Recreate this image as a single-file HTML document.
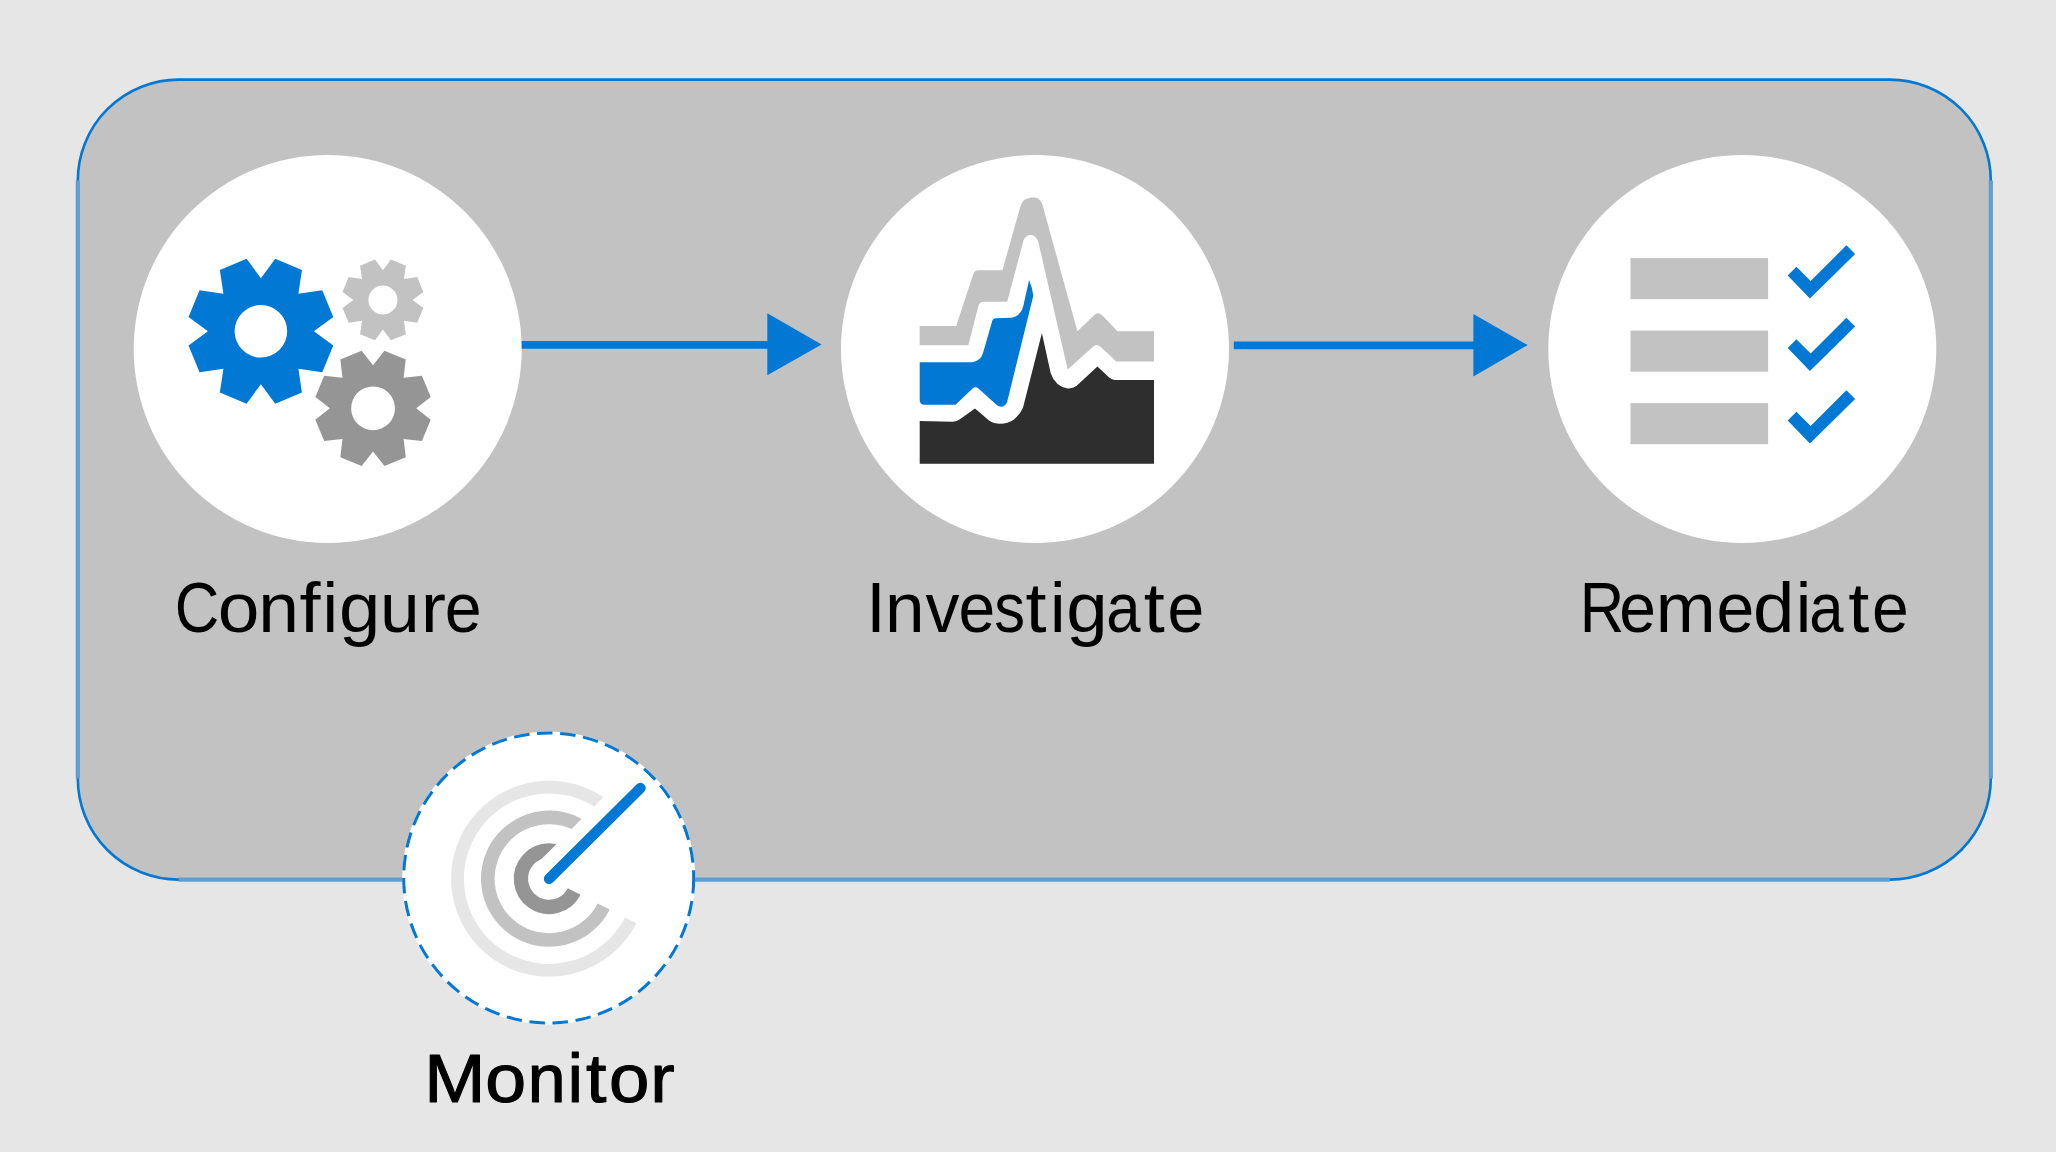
<!DOCTYPE html>
<html><head><meta charset="utf-8"><style>
html,body{margin:0;padding:0;background:#e6e6e6;}
svg{display:block;}
</style></head><body>
<svg width="2056" height="1152" viewBox="0 0 2056 1152">
<rect x="0" y="0" width="2056" height="1152" fill="#e6e6e6"/>
<rect x="77.8" y="79.6" width="1913.0" height="800.0" rx="101" ry="101" fill="#c2c2c2" stroke="#0078d4" stroke-width="2.6"/>
<path d="M77.8,180.6 L77.8,778.6 M1990.8,180.6 L1990.8,778.6 M178.8,879.6 L1889.8,879.6" stroke="#5e9ed2" stroke-width="4.2" fill="none"/>
<line x1="515" y1="344.8" x2="772" y2="344.8" stroke="#0078d4" stroke-width="7.8"/>
<polygon points="767.3,313.3 821.6,344.5 767.3,375.3" fill="#0078d4"/>
<line x1="1233.8" y1="345.3" x2="1478" y2="345.3" stroke="#0078d4" stroke-width="7.8"/>
<polygon points="1473.4,314 1527.7,345.1 1473.4,376.5" fill="#0078d4"/>
<circle cx="327.7" cy="349" r="194" fill="#ffffff"/>
<circle cx="1035.0" cy="349" r="194" fill="#ffffff"/>
<circle cx="1742.3" cy="349" r="194" fill="#ffffff"/>
<path d="M260.90,278.25 L275.23,258.86 L301.95,269.92 L298.38,293.77 L322.23,290.20 L333.29,316.92 L313.90,331.25 L333.29,345.58 L322.23,372.30 L298.38,368.73 L301.95,392.58 L275.23,403.64 L260.90,384.25 L246.57,403.64 L219.85,392.58 L223.42,368.73 L199.57,372.30 L188.51,345.58 L207.90,331.25 L188.51,316.92 L199.57,290.20 L223.42,293.77 L219.85,269.92 L246.57,258.86 Z M234.60,331.25 a26.3,26.3 0 1,0 52.60,0 a26.3,26.3 0 1,0 -52.60,0 Z" fill="#0078d4" fill-rule="evenodd"/>
<path d="M382.96,270.30 L390.96,259.48 L405.88,265.66 L403.89,278.97 L417.20,276.98 L423.38,291.90 L412.56,299.90 L423.38,307.90 L417.20,322.82 L403.89,320.83 L405.88,334.14 L390.96,340.32 L382.96,329.50 L374.96,340.32 L360.04,334.14 L362.03,320.83 L348.72,322.82 L342.54,307.90 L353.36,299.90 L342.54,291.90 L348.72,276.98 L362.03,278.97 L360.04,265.66 L374.96,259.48 Z M368.46,299.90 a14.5,14.5 0 1,0 29.00,0 a14.5,14.5 0 1,0 -29.00,0 Z" fill="#c2c2c2" fill-rule="evenodd"/>
<path d="M373.05,365.15 L384.47,350.67 L405.76,359.49 L403.60,377.80 L421.91,375.64 L430.73,396.93 L416.25,408.35 L430.73,419.77 L421.91,441.06 L403.60,438.90 L405.76,457.21 L384.47,466.03 L373.05,451.55 L361.63,466.03 L340.34,457.21 L342.50,438.90 L324.19,441.06 L315.37,419.77 L329.85,408.35 L315.37,396.93 L324.19,375.64 L342.50,377.80 L340.34,359.49 L361.63,350.67 Z M351.15,408.35 a21.9,21.9 0 1,0 43.80,0 a21.9,21.9 0 1,0 -43.80,0 Z" fill="#959595" fill-rule="evenodd"/>
<path d="M919.7,326.1 L956.2,326.1 L973.5,273.5 Q974.8,270.2 978.5,270.2 L1002.4,270.2 L1020.6,205.8 C1023.5,197.5 1031,197.5 1034.5,197.6 C1038.5,198 1041,200.5 1042.5,205 L1077.4,331.3 L1095.2,314.3 Q1098.5,311.8 1102.5,315.4 L1117.5,331.3 L1154,331.3 L1154,361.6 L1116.3,361.6 L1100.5,346.8 Q1096.8,343.3 1093,346.8 L1067.7,369.5 L1038.2,241.5 C1036.5,236.5 1033,235 1030.5,235 C1027,235 1024.5,237.5 1023.5,240.5 L1007.2,301.8 L983.5,301.8 Q979.5,302 978.5,305.5 L968.3,345.2 L919.7,345.2 Z" fill="#c2c2c2"/>
<path d="M919.7,362.2 L972,362.2 Q980.5,361.5 983,353.1 L992.2,321 Q993,318.2 996,318.2 L1011.5,317.8 Q1020.5,316 1023.2,306.5 L1029.1,280 Q1032.5,288 1033.3,295.7 L1007.2,401.7 Q1005,406.8 1001,406.8 Q998,406.8 995,403.5 L978.5,388.5 Q975.6,386.2 972.6,388.5 L955.5,404.7 L924.6,404.7 Q919.7,404.7 919.7,399.9 Z" fill="#0078d4"/>
<path d="M919.7,421.1 L952.5,421.7 Q957.5,421.5 961,418.5 L975,408.4 L989,420.5 Q994,423.8 1000,423.8 Q1008,423.5 1013.3,419.9 Q1020.5,414 1023,407.8 L1041.9,333.1 L1050.7,373.2 Q1055,386 1067.7,388.6 Q1074,388.6 1078.6,384.1 L1097.4,366.5 L1107.8,376.2 Q1111,379.9 1116,379.9 L1154,379.9 L1154,463.7 L919.7,463.7 Z" fill="#2e2e2e"/>
<rect x="1630.5" y="258.1" width="137.6" height="41.1" fill="#c2c2c2"/>
<polygon points="1787.7,275.5 1796.4,266.8 1810.65,281.1 1846.4,245.3 1855.1,254.0 1809.9,298.4" fill="#0078d4"/>
<rect x="1630.5" y="330.6" width="137.6" height="41.1" fill="#c2c2c2"/>
<polygon points="1787.7,348.0 1796.4,339.3 1810.65,353.6 1846.4,317.8 1855.1,326.5 1809.9,370.9" fill="#0078d4"/>
<rect x="1630.5" y="403.1" width="137.6" height="41.1" fill="#c2c2c2"/>
<polygon points="1787.7,420.5 1796.4,411.8 1810.65,426.1 1846.4,390.3 1855.1,399.0 1809.9,443.4" fill="#0078d4"/>
<g font-family="Liberation Sans, sans-serif" fill="#000000" text-anchor="start">
<text x="0" y="632.4" font-size="70" transform="translate(197.45,0) scale(0.8800,1) translate(-25.72,0)">C</text>
<text x="0" y="632.4" font-size="70" transform="translate(238.70,0) scale(1.0710,1) translate(-19.47,0)">o</text>
<text x="0" y="632.4" font-size="70" transform="translate(278.55,0) scale(1.0459,1) translate(-19.52,0)">n</text>
<text x="0" y="632.4" font-size="70" transform="translate(310.68,0) scale(1.0800,1) translate(-10.27,0)">f</text>
<text x="0" y="632.4" font-size="70" transform="translate(330.30,0) scale(1.0000,1) translate(-7.76,0)">i</text>
<text x="0" y="632.4" font-size="70" transform="translate(358.90,0) scale(1.0610,1) translate(-18.68,0)">g</text>
<text x="0" y="632.4" font-size="70" transform="translate(399.75,0) scale(1.0190,1) translate(-19.41,0)">u</text>
<text x="0" y="632.4" font-size="70" transform="translate(435.20,0) scale(1.0800,1) translate(-13.40,0)">r</text>
<text x="0" y="632.4" font-size="70" transform="translate(463.18,0) scale(0.9483,1) translate(-19.40,0)">e</text>
<text x="0" y="632.4" font-size="70" transform="translate(875.95,0) scale(1.0000,1) translate(-9.72,0)">I</text>
<text x="0" y="632.4" font-size="70" transform="translate(904.90,0) scale(1.0156,1) translate(-19.52,0)">n</text>
<text x="0" y="632.4" font-size="70" transform="translate(942.55,0) scale(0.9704,1) translate(-17.50,0)">v</text>
<text x="0" y="632.4" font-size="70" transform="translate(976.80,0) scale(0.9438,1) translate(-19.40,0)">e</text>
<text x="0" y="632.4" font-size="70" transform="translate(1009.50,0) scale(0.8800,1) translate(-17.21,0)">s</text>
<text x="0" y="632.4" font-size="70" transform="translate(1036.40,0) scale(1.0800,1) translate(-10.00,0)">t</text>
<text x="0" y="632.4" font-size="70" transform="translate(1057.75,0) scale(1.0000,1) translate(-7.76,0)">i</text>
<text x="0" y="632.4" font-size="70" transform="translate(1086.05,0) scale(1.0642,1) translate(-18.68,0)">g</text>
<text x="0" y="632.4" font-size="70" transform="translate(1124.75,0) scale(0.8800,1) translate(-20.95,0)">a</text>
<text x="0" y="632.4" font-size="70" transform="translate(1154.45,0) scale(1.0800,1) translate(-10.00,0)">t</text>
<text x="0" y="632.4" font-size="70" transform="translate(1185.70,0) scale(0.9438,1) translate(-19.40,0)">e</text>
<text x="0" y="632.4" font-size="70" transform="translate(1603.10,0) scale(0.8800,1) translate(-26.52,0)">R</text>
<text x="0" y="632.4" font-size="70" transform="translate(1637.60,0) scale(0.9438,1) translate(-19.40,0)">e</text>
<text x="0" y="632.4" font-size="70" transform="translate(1685.80,0) scale(1.0276,1) translate(-29.17,0)">m</text>
<text x="0" y="632.4" font-size="70" transform="translate(1735.25,0) scale(0.9712,1) translate(-19.40,0)">e</text>
<text x="0" y="632.4" font-size="70" transform="translate(1772.85,0) scale(1.0642,1) translate(-18.68,0)">d</text>
<text x="0" y="632.4" font-size="70" transform="translate(1803.45,0) scale(1.0000,1) translate(-7.76,0)">i</text>
<text x="0" y="632.4" font-size="70" transform="translate(1827.65,0) scale(0.8800,1) translate(-20.95,0)">a</text>
<text x="0" y="632.4" font-size="70" transform="translate(1859.05,0) scale(1.0800,1) translate(-10.00,0)">t</text>
<text x="0" y="632.4" font-size="70" transform="translate(1890.30,0) scale(0.9438,1) translate(-19.40,0)">e</text>
<text x="0" y="1101.8" font-size="68" stroke="#000" stroke-width="1.1" stroke-linejoin="round" transform="translate(454.75,0) scale(1.0800,1) translate(-28.32,0)">M</text>
<text x="0" y="1101.8" font-size="68" stroke="#000" stroke-width="1.1" stroke-linejoin="round" transform="translate(505.77,0) scale(1.0800,1) translate(-18.91,0)">o</text>
<text x="0" y="1101.8" font-size="68" stroke="#000" stroke-width="1.1" stroke-linejoin="round" transform="translate(546.70,0) scale(1.0005,1) translate(-18.96,0)">n</text>
<text x="0" y="1101.8" font-size="68" stroke="#000" stroke-width="1.1" stroke-linejoin="round" transform="translate(575.30,0) scale(1.0000,1) translate(-7.54,0)">i</text>
<text x="0" y="1101.8" font-size="68" stroke="#000" stroke-width="1.1" stroke-linejoin="round" transform="translate(596.55,0) scale(1.0800,1) translate(-9.71,0)">t</text>
<text x="0" y="1101.8" font-size="68" stroke="#000" stroke-width="1.1" stroke-linejoin="round" transform="translate(629.10,0) scale(1.0683,1) translate(-18.91,0)">o</text>
<text x="0" y="1101.8" font-size="68" stroke="#000" stroke-width="1.1" stroke-linejoin="round" transform="translate(664.30,0) scale(1.0765,1) translate(-13.02,0)">r</text>
</g>
<circle cx="548.7" cy="878.0" r="146.5" fill="#ffffff"/>
<path d="M693.7,878.0 A145.0,145.0 0 1,1 403.70000000000005,878.0 A145.0,145.0 0 1,1 693.7,878.0" fill="none" stroke="#0078d4" stroke-width="3" stroke-dasharray="15.5 7.65"/>
<path d="M630.72,920.29 A91.6,91.6 0 1,1 619.27,819.82" fill="none" stroke="#e6e6e6" stroke-width="12.8"/>
<path d="M603.72,906.53 A61.3,61.3 0 1,1 596.06,839.30" fill="none" stroke="#c2c2c2" stroke-width="13.6"/>
<path d="M574.23,891.50 A28.2,28.2 0 1,1 570.70,860.57" fill="none" stroke="#959595" stroke-width="14.3"/>
<polygon points="535.52,865.12 620.38,780.27 647.53,807.42 562.68,892.28" fill="#ffffff"/>
<line x1="549.1" y1="878.7" x2="640.5" y2="788.1" stroke="#0078d4" stroke-width="10.5" stroke-linecap="round"/>
</svg>
</body></html>
